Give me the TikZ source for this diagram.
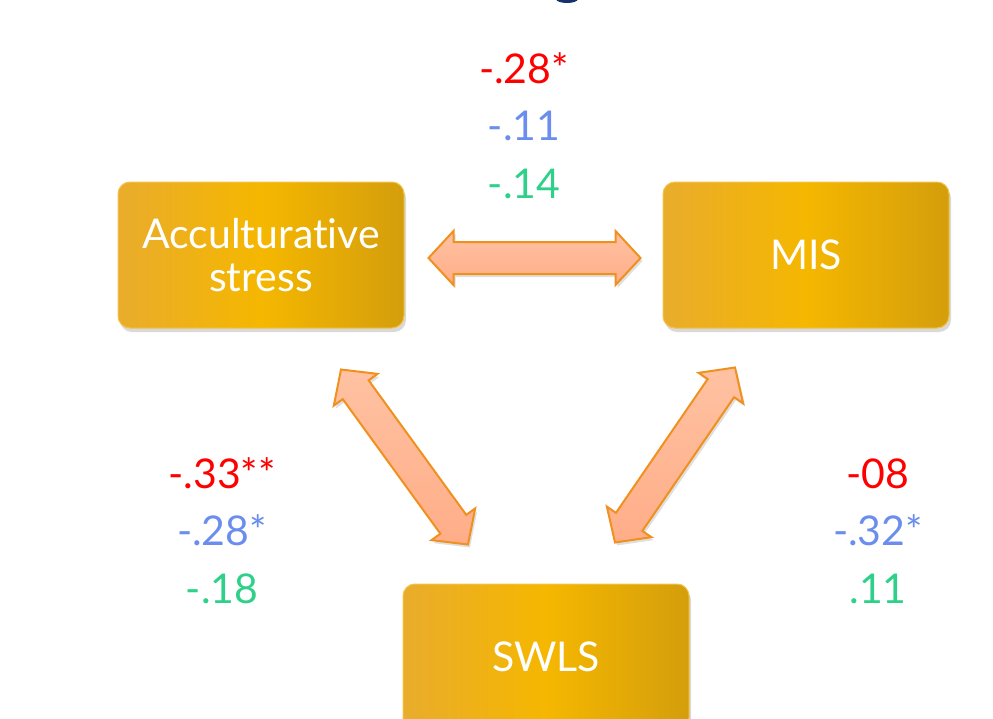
\documentclass[tikz,border=0pt]{standalone}
\usepackage{fontspec}
\setmainfont{Lato}[Ligatures={NoCommon,NoRare}]
\usetikzlibrary{positioning,calc,shadows}
\definecolor{goldA}{HTML}{E9AC2C}
\definecolor{goldB}{HTML}{F5B700}
\definecolor{goldC}{HTML}{D49E0C}
\definecolor{goldedge}{HTML}{F2C34A}
\definecolor{salmonA}{HTML}{FFC2A2}
\definecolor{salmonB}{HTML}{FFAD88}
\definecolor{arrowedge}{HTML}{F0901F}
\definecolor{numred}{HTML}{FF0000}
\definecolor{numblue}{HTML}{6A8DEE}
\definecolor{numgreen}{HTML}{2FD18A}
\definecolor{titleblue}{HTML}{17306E}
\tikzset{
  varbox/.style={rounded corners=12pt,draw=goldedge,line width=1pt,left color=goldA,right color=goldC,middle color=goldB,
    minimum width=286pt,minimum height=146pt,align=center,text=white,font=\fontsize{41}{43}\selectfont,
    drop shadow={opacity=0.3,shadow xshift=2pt,shadow yshift=-4pt}},
  num/.style={inner sep=0pt,text height=28pt,text depth=2pt,font=\fontsize{41}{44}\selectfont},
  dblarrow/.style={draw=arrowedge,line width=2pt,line join=miter,top color=salmonA,bottom color=salmonB,
    drop shadow={opacity=0.25,shadow xshift=2pt,shadow yshift=-3pt}},
}
\newcommand{\fatarrow}[2]{%
  \path[dblarrow] let \p1=(#1), \p2=(#2), \n1={atan2(\y2-\y1,\x2-\x1)}, \n2={veclen(\x2-\x1,\y2-\y1)} in
    [shift={(\p1)},rotate=\n1]
    (0pt,0pt) -- (25pt,27pt) -- (25pt,16pt) -- ({\n2-25pt},16pt) -- ({\n2-25pt},27pt) -- (\n2,0pt)
    -- ({\n2-25pt},-27pt) -- ({\n2-25pt},-16pt) -- (25pt,-16pt) -- (25pt,-27pt) -- cycle;}

\begin{document}
\begin{tikzpicture}[x=1pt,y=-1pt]
  \useasboundingbox (0,0) rectangle (993,718);
  \fill[titleblue] (567,-1) ellipse (11 and 4);

  \node[varbox] (as) at (261,255) {Acculturative\\stress};
  \node[varbox,right=258pt of as] (mis) {MIS};
  \node[varbox] (swls) at (546,657) {SWLS};

  \coordinate (h1) at ([shift={(24,3)}]as.east);
  \coordinate (h2) at ([shift={(-22,3)}]mis.west);
  \coordinate (l1) at ([shift={(80,41)}]as.south);
  \coordinate (l2) at ([shift={(-78,-39)}]swls.north);
  \coordinate (r1) at ([shift={(-71,39)}]mis.south);
  \coordinate (r2) at ([shift={(69,-41)}]swls.north);
  \fatarrow{h1}{h2}
  \fatarrow{l1}{l2}
  \fatarrow{r2}{r1}

  \node[num,numred] (t1) at (524,70) {-.28*};
  \node[num,numblue,below=27.5pt of t1] (t2) {-.11};
  \node[num,numgreen,below=27.5pt of t2] (t3) {-.14};

  \node[num,numred] (a1) at (222,475) {-.33**};
  \node[num,numblue,below=27.5pt of a1] (a2) {-.28*};
  \node[num,numgreen,below=27.5pt of a2] (a3) {-.18};

  \node[num,numred] (m1) at (878,475) {-08};
  \node[num,numblue,below=27.5pt of m1] (m2) {-.32*};
  \node[num,numgreen,below=27.5pt of m2] (m3) {.11};
\end{tikzpicture}
\end{document}
